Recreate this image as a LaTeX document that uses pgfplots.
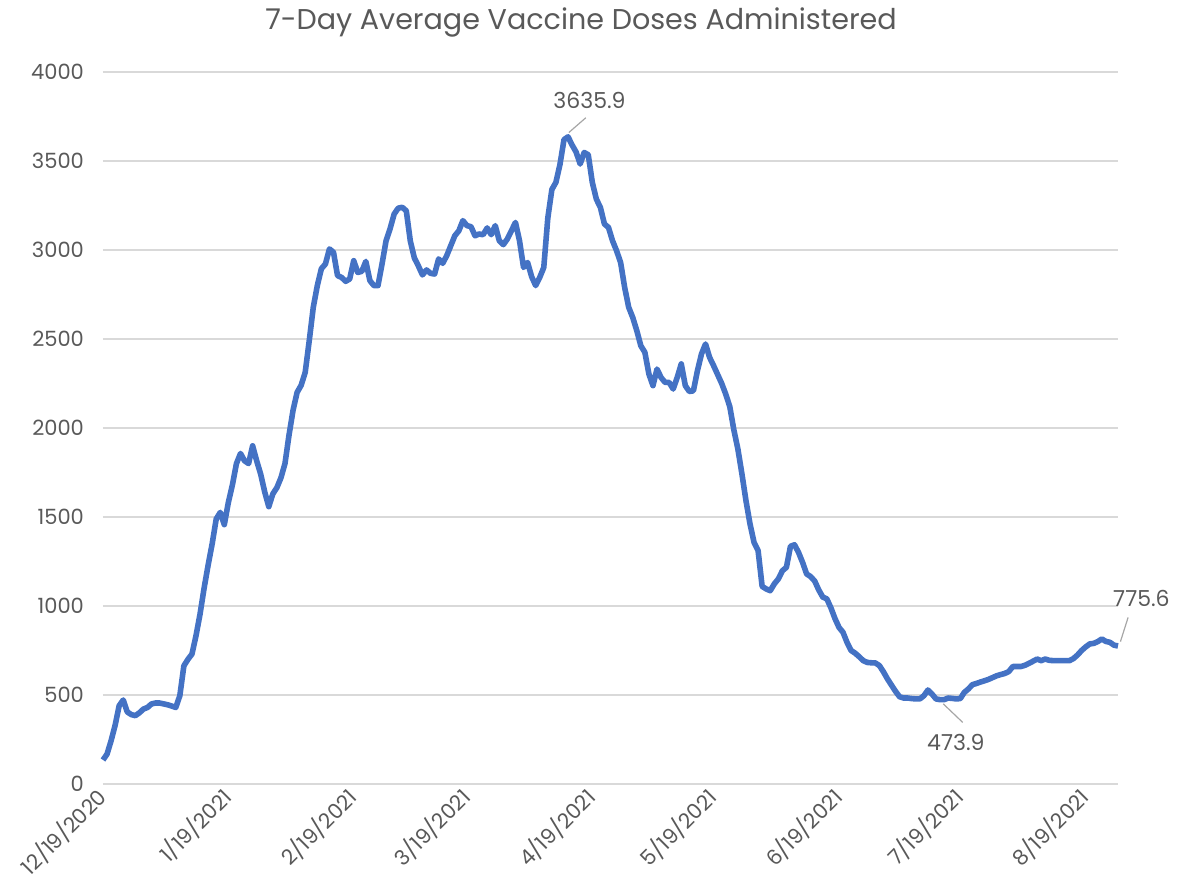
\documentclass[border=0pt]{standalone}
\usepackage{pgfplots}
\pgfplotsset{compat=1.18}
\usepackage{fontspec}
\setmainfont{Poppins}
\definecolor{lineblue}{HTML}{4472C4}
\definecolor{txt}{HTML}{595959}
\definecolor{grd}{HTML}{D9D9D9}
\begin{document}
\begin{tikzpicture}
\useasboundingbox (-51.5pt,-53pt) rectangle (538pt,392pt);
\begin{axis}[
  scale only axis,
  width=507.5pt, height=356pt,
  xmin=0, xmax=251, ymin=0, ymax=4000,
  clip=false,
  axis line style={draw=none},
  major tick length=0pt,
  ymajorgrids,
  grid style={color=grd, line width=0.8pt},
  ytick={0,500,...,4000},
  xtick={0,31,62,90,121,151,182,212,243},
  xticklabels={12/19/2020,1/19/2021,2/19/2021,3/19/2021,4/19/2021,5/19/2021,6/19/2021,7/19/2021,8/19/2021},
  /pgf/number format/assume math mode=true,
  /pgf/number format/1000 sep={},
  tick label style={font=\fontsize{10.5}{12}\selectfont, text=txt},
  yticklabel style={xshift=-6pt},
  xticklabel style={rotate=45, anchor=east, yshift=-3pt},
]
\addplot[color=lineblue, line width=2.8pt, line join=round] table {
x y
0 135
1 168
2 243
3 330
4 440
5 472
6 405
7 390
8 384
9 400
10 421
11 430
12 450
13 455
14 455
15 450
16 445
17 438
18 430
19 496
20 664
21 700
22 730
23 833
24 955
25 1100
26 1230
27 1350
28 1489
29 1526
30 1457
31 1582
32 1680
33 1800
34 1857
35 1816
36 1800
37 1900
38 1816
39 1740
40 1640
41 1558
42 1630
43 1665
44 1720
45 1800
46 1960
47 2100
48 2200
49 2240
50 2312
51 2490
52 2678
53 2800
54 2895
55 2921
56 3006
57 2987
58 2856
59 2846
60 2824
61 2837
62 2940
63 2874
64 2880
65 2936
66 2828
67 2800
68 2800
69 2921
70 3052
71 3120
72 3202
73 3235
74 3240
75 3220
76 3050
77 2955
78 2910
79 2860
80 2888
81 2869
82 2865
83 2950
84 2925
85 2968
86 3024
87 3080
88 3108
89 3165
90 3137
91 3131
92 3080
93 3090
94 3086
95 3124
96 3086
97 3137
98 3052
99 3030
100 3062
101 3108
102 3155
103 3052
104 2902
105 2930
106 2850
107 2800
108 2846
109 2902
110 3180
111 3340
112 3380
113 3480
114 3620
115 3635.9
116 3590
117 3550
118 3483
119 3548
120 3535
121 3380
122 3286
123 3239
124 3146
125 3127
126 3052
127 2996
128 2930
129 2790
130 2678
131 2621
132 2547
133 2462
134 2425
135 2303
136 2238
137 2331
138 2284
139 2256
140 2256
141 2219
142 2284
143 2360
144 2238
145 2205
146 2209
147 2322
148 2416
149 2472
150 2397
151 2350
152 2300
153 2250
154 2190
155 2120
156 1990
157 1882
158 1742
159 1592
160 1461
161 1357
162 1311
163 1110
164 1096
165 1086
166 1124
167 1152
168 1198
169 1217
170 1335
171 1344
172 1301
173 1245
174 1180
175 1165
176 1140
177 1090
178 1050
179 1040
180 990
181 930
182 880
183 852
184 795
185 750
186 735
187 715
188 693
189 683
190 681
191 680
192 665
193 630
194 590
195 555
196 520
197 490
198 483
199 483
200 480
201 478
202 478
203 496
204 528
205 505
206 478
207 473.9
208 474
209 483
210 481
211 478
212 480
213 515
214 534
215 558
216 565
217 573
218 580
219 588
220 598
221 608
222 615
223 621
224 632
225 660
226 660
227 660
228 667
229 678
230 690
231 702
232 693
233 702
234 695
235 693
236 693
237 693
238 693
239 693
240 705
241 725
242 750
243 770
244 787
245 790
246 800
247 815
248 801
249 796
250 780
251 775.6
};
% data labels
\draw[color=gray!70, line width=0.6pt] (axis cs:115.2,3660) -- (axis cs:119.4,3743);
\node[text=txt, font=\fontsize{11}{13}\selectfont] at (axis cs:120.3,3839) {3635.9};
\draw[color=gray!70, line width=0.6pt] (axis cs:207.8,450) -- (axis cs:212.6,346);
\node[text=txt, font=\fontsize{11}{13}\selectfont] at (axis cs:210.9,232) {473.9};
\draw[color=gray!70, line width=0.6pt] (axis cs:251.6,800) -- (axis cs:253.5,936);
\node[text=txt, font=\fontsize{11}{13}\selectfont] at (axis cs:256.8,1040) {775.6};
% title
\node[text=txt, font=\fontsize{14.3}{17}\selectfont] at (rel axis cs:0.471,1.070) {7-Day Average Vaccine Doses Administered};
\end{axis}
\end{tikzpicture}
\end{document}
